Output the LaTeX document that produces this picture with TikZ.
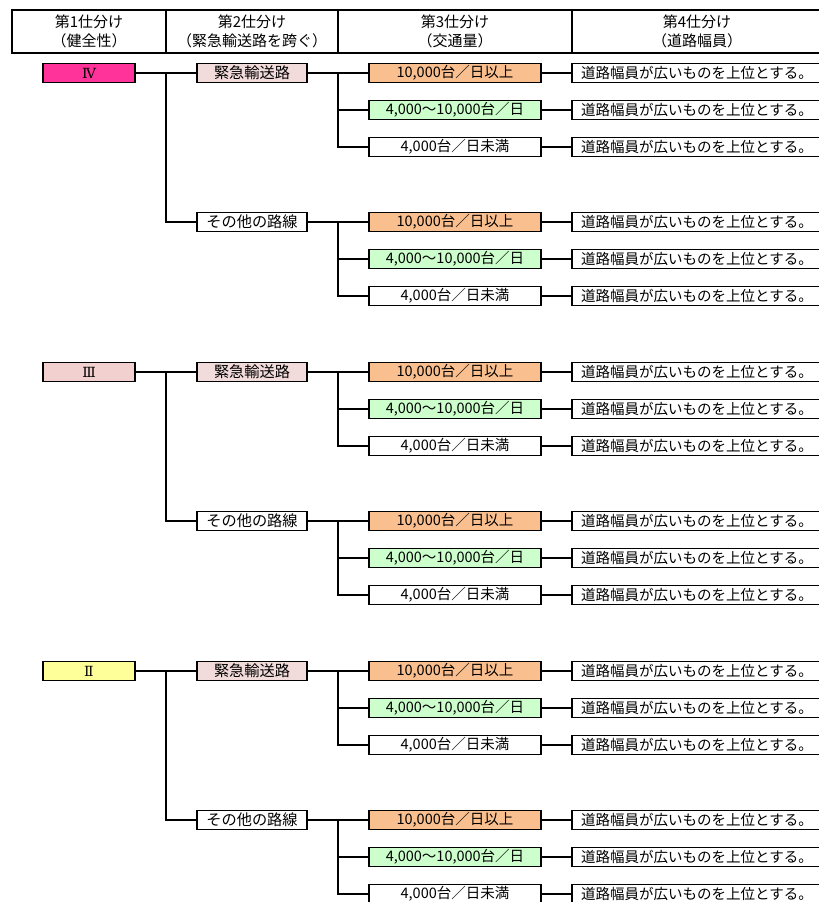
\documentclass[tikz,border=0pt]{standalone}
\usepackage{fontspec}
\setmainfont{Noto Sans CJK JP}
\newfontfamily\rmn{DejaVu Serif}
\definecolor{rIV}{HTML}{FF3399}
\definecolor{rIII}{HTML}{F2D0D0}
\definecolor{rII}{HTML}{FFFF99}
\definecolor{emg}{HTML}{F2DCDB}
\definecolor{org}{HTML}{FABF8F}
\definecolor{grn}{HTML}{CCFFCC}
\tikzset{
  bx/.style={draw=black, line width=1.6pt, minimum height=19pt, inner sep=0pt, font=\fontsize{14.5}{14.5}\selectfont},
  rk/.style={bx, minimum width=92pt, font=\rmn\fontsize{14}{14}\selectfont},
  sec/.style={bx, minimum width=110pt, font=\fontsize{15.2}{15.2}\selectfont},
  trf/.style={bx, minimum width=172pt},
  wid/.style={bx, minimum width=250pt, fill=white},
  ln/.style={line width=1.4pt},
  hd/.style={align=center, inner sep=0pt, font=\fontsize{15}{19}\selectfont},
}
\newcommand\subtr[3]{% #1 parent node, #2 y0, #3 prefix
  \node[trf, fill=org] (#3a) at (455,#2) {10,000台／日以上};
  \node[trf, fill=grn] (#3b) at (455,#2+37) {4,000～10,000台／日};
  \node[trf, fill=white] (#3c) at (455,#2+74) {4,000台／日未満};
  \node[wid] (#3wa) at (697,#2) {道路幅員が広いものを上位とする。};
  \node[wid] (#3wb) at (697,#2+37) {道路幅員が広いものを上位とする。};
  \node[wid] (#3wc) at (697,#2+74) {道路幅員が広いものを上位とする。};
  \coordinate (#3j) at (338,#2);
  \draw[ln] (#1) -- (#3a);
  \draw[ln] (#3j) |- (#3b);
  \draw[ln] (#3j) |- (#3c);
  \draw[ln] (#3a) -- (#3wa);
  \draw[ln] (#3b) -- (#3wb);
  \draw[ln] (#3c) -- (#3wc);
}
\newcommand\grp[4]{% #1 prefix, #2 y0, #3 fill, #4 label
  \node[rk, fill=#3] (#1r) at (89,#2) {#4};
  \node[sec, fill=emg] (#1e) at (252,#2) {緊急輸送路};
  \node[sec, fill=white] (#1o) at (252,#2+149) {その他の路線};
  \coordinate (#1j) at (166,#2);
  \draw[ln] (#1r) -- (#1e);
  \draw[ln] (#1j) |- (#1o);
  \subtr{#1e}{#2}{#1E}
  \subtr{#1o}{#2+149}{#1O}
}
\begin{document}
\begin{tikzpicture}[x=1pt,y=-1pt]
\useasboundingbox (0,0) rectangle (819,902);
\clip (0,0) rectangle (819,902);
\fill[white] (0,0) rectangle (819,902);
% header
\draw[line width=1.6pt] (12,10) rectangle (830,53);
\draw[line width=1.6pt] (166,10) -- (166,53);
\draw[line width=1.6pt] (338,10) -- (338,53);
\draw[line width=1.6pt] (572,10) -- (572,53);
\node[hd] (h1) at (89,31.5) {第1仕分け\\（健全性）};
\node[hd] (h2) at (252,31.5) {第2仕分け\\（緊急輸送路を跨ぐ）};
\node[hd] (h3) at (455,31.5) {第3仕分け\\（交通量）};
\node[hd] (h4) at (697,31.5) {第4仕分け\\（道路幅員）};
\grp{A}{73}{rIV}{Ⅳ}
\grp{B}{372}{rIII}{Ⅲ}
\grp{C}{671}{rII}{Ⅱ}
\end{tikzpicture}
\end{document}
